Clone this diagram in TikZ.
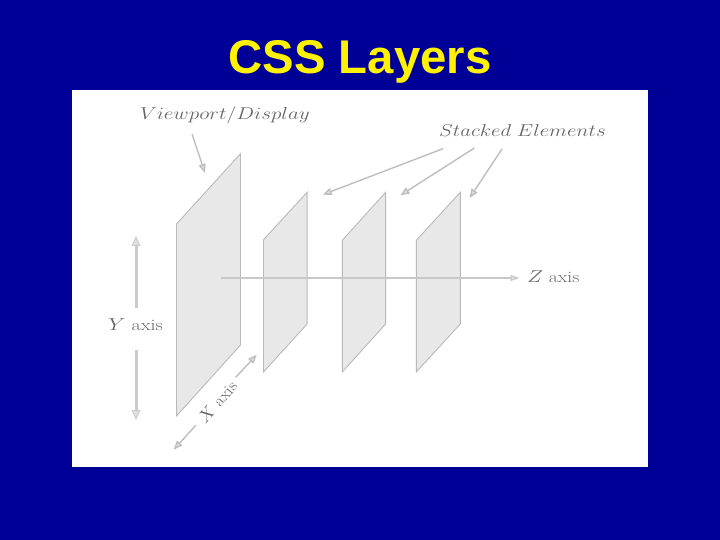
\documentclass[tikz,border=0pt]{standalone}
\usepackage{fontspec}
\newfontfamily\titlefont{Liberation Sans}
\usetikzlibrary{arrows.meta}
\definecolor{bgblue}{RGB}{0,0,150}
\definecolor{titleyellow}{RGB}{255,242,0}
\definecolor{panelfill}{RGB}{232,232,232}
\definecolor{paneledge}{RGB}{185,185,185}
\definecolor{labelgray}{RGB}{100,100,100}
\definecolor{arrowline}{RGB}{190,190,190}
\definecolor{arrowfill}{RGB}{222,222,222}
\tikzset{
  panel/.style={fill=panelfill, draw=paneledge, line width=0.9bp, line join=miter},
  lbl/.style={text=labelgray, inner sep=0pt, anchor=base, font=\fontsize{16}{18}\selectfont},
  pointer/.style={draw=arrowline, line width=1.4bp,
    -{Triangle[length=9bp,width=7bp,fill=arrowfill]}},
  zline/.style={draw=arrowline!85, line width=1.2bp,
    -{Triangle[length=9bp,width=6bp,fill=arrowfill]}},
  yline/.style={draw=arrowline!80, line width=3bp,
    -{Triangle[length=10bp,width=9bp,fill=arrowfill,line width=0.8bp]}},
}
\begin{document}
\begin{tikzpicture}[x=1bp,y=-1bp]
\useasboundingbox (0,0) rectangle (720,540);
\fill[bgblue] (0,0) rectangle (720,540);
\fill[white] (72,90) rectangle (648,467);
\node[font=\titlefont\bfseries\fontsize{47.5}{48}\selectfont, text=titleyellow, anchor=base, inner sep=0pt] (title) at (360,74) {CSS Layers};

% panels
\filldraw[panel] (176.5,224) -- (240.5,153.7) -- (240.5,345) -- (176.5,416) -- cycle;
\filldraw[panel] (263.5,239.7) -- (307.1,192.3) -- (307.1,324) -- (263.5,372) -- cycle;
\filldraw[panel] (342.3,240.3) -- (385.6,192.3) -- (385.6,324) -- (342.3,372) -- cycle;
\filldraw[panel] (416.3,240.3) -- (460.3,192.3) -- (460.3,324) -- (416.3,372) -- cycle;

% labels
\node[lbl] (vlab) at (225,120) {\scalebox{1.23}[1]{$Viewport/Display$}};
\node[lbl] (slab) at (522.5,137) {\scalebox{1.21}[1]{$Stacked\ Elements$}};
\node[lbl] (zlab) at (553.3,282.3) {\scalebox{1.23}[1]{$Z$ axis}};
\node[lbl] (ylab) at (135.6,330) {\scalebox{1.26}[1]{$Y$ axis}};
\node[lbl, rotate=49, anchor=center] (xlab) at (217.5,402) {\scalebox{1.1}[1]{$X$ axis}};

% Z axis
\coordinate (zs) at (221,278);
\coordinate (ze) at (519.5,278);
\draw[zline] (zs) -- (ze);

% Y axis
\coordinate (ya1) at (136,308);
\coordinate (yt) at (136,236);
\coordinate (ya2) at (136,350);
\coordinate (yb) at (136,420);
\draw[yline] (ya1) -- (yt);
\draw[yline] (ya2) -- (yb);

% X axis
\coordinate (xa1) at (195.8,425.3);
\coordinate (xt1) at (173.6,449.7);
\coordinate (xa2) at (235.7,377.3);
\coordinate (xt2) at (256.8,354.7);
\draw[pointer] (xa1) -- (xt1);
\draw[pointer] (xa2) -- (xt2);

% pointers
\coordinate (vs) at (192,134);
\coordinate (vt) at (205,173);
\draw[pointer] (vs) -- (vt);
\coordinate (s1) at (443,148.7);
\coordinate (t1) at (322.7,194.7);
\coordinate (s2) at (474.4,148);
\coordinate (t2) at (400.4,195.3);
\coordinate (s3) at (502,149);
\coordinate (t3) at (469.6,198);
\draw[pointer] (s1) -- (t1);
\draw[pointer] (s2) -- (t2);
\draw[pointer] (s3) -- (t3);
\end{tikzpicture}
\end{document}
